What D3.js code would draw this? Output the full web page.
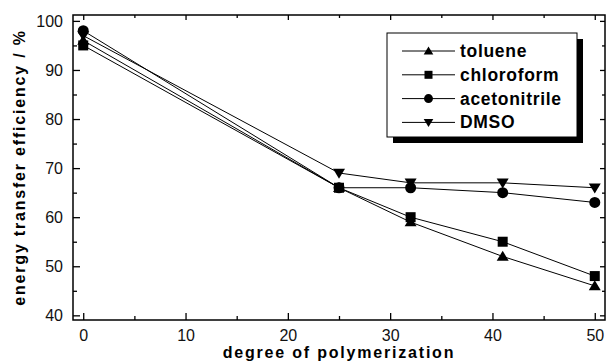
<!DOCTYPE html>
<html>
<head>
<meta charset="utf-8">
<script src="https://cdn.jsdelivr.net/npm/d3@7"></script>
<style>
body { margin: 0; background: #fff; }
svg { font-family: "Liberation Sans", Arial, Helvetica, sans-serif; }
</style>
</head>
<body>
<svg id="chart" width="607" height="364"></svg>
<script>
var dp = [0, 25, 32, 41, 50];
var toluene = [96, 66, 59, 52, 46];
var chloroform = [95, 66, 60, 55, 48];
var acetonitrile = [98, 66, 66, 65, 63];
var dmso = [97, 69, 67, 67, 66];
var xTicks = [0, 10, 20, 30, 40, 50];
var yTicks = [40, 50, 60, 70, 80, 90, 100];

var series = [
  {name: 'toluene', values: toluene, sym: 'up'},
  {name: 'chloroform', values: chloroform, sym: 'square'},
  {name: 'acetonitrile', values: acetonitrile, sym: 'circle'},
  {name: 'DMSO', values: dmso, sym: 'down'}
];

var svg = d3.select('#chart');
var pLeft = 73, pRight = 605, pTop = 15, pBottom = 320;

var x = d3.scaleLinear().domain([-1, 51]).range([pLeft, pRight]);
var y = d3.scaleLinear().domain([39.05, 101.2]).range([pBottom, pTop]);

// markers
function marker(g, sym, s) {
  if (sym == 'square') {
    g.append('rect').attr('x', -s/2).attr('y', -s/2).attr('width', s).attr('height', s);
  } else if (sym == 'circle') {
    g.append('circle').attr('r', s/2 + 0.5);
  } else if (sym == 'up') {
    var h = s * 0.95;
    g.append('path').attr('d', 'M0,' + (-h*0.6) + 'L' + (s*0.6) + ',' + (h*0.45) + 'L' + (-s*0.6) + ',' + (h*0.45) + 'Z');
  } else {
    var h = s * 0.95;
    g.append('path').attr('d', 'M0,' + (h*0.6) + 'L' + (s*0.6) + ',' + (-h*0.45) + 'L' + (-s*0.6) + ',' + (-h*0.45) + 'Z');
  }
}

// axes with inward ticks, mirrored
var xMinor = d3.range(5, 50, 10);
var yMinor = d3.range(45, 100, 10);
function noDomain(g) { g.select('.domain').remove(); }

svg.append('g').attr('transform', 'translate(0,' + pBottom + ')')
  .call(d3.axisBottom(x).tickValues(xTicks).tickSize(-7).tickPadding(10).tickFormat(d3.format('d'))).call(noDomain);
svg.append('g').attr('transform', 'translate(0,' + pBottom + ')')
  .call(d3.axisBottom(x).tickValues(xMinor).tickSize(-4).tickFormat('')).call(noDomain);
svg.append('g').attr('transform', 'translate(0,' + pTop + ')')
  .call(d3.axisTop(x).tickValues(xTicks).tickSize(-5).tickFormat('')).call(noDomain);
svg.append('g').attr('transform', 'translate(0,' + pTop + ')')
  .call(d3.axisTop(x).tickValues(xMinor).tickSize(-3).tickFormat('')).call(noDomain);

svg.append('g').attr('transform', 'translate(' + pLeft + ',0)')
  .call(d3.axisLeft(y).tickValues(yTicks).tickSize(-7).tickPadding(10).tickFormat(d3.format('d'))).call(noDomain);
svg.append('g').attr('transform', 'translate(' + pLeft + ',0)')
  .call(d3.axisLeft(y).tickValues(yMinor).tickSize(-4).tickFormat('')).call(noDomain);
svg.append('g').attr('transform', 'translate(' + pRight + ',0)')
  .call(d3.axisRight(y).tickValues(yTicks).tickSize(-5).tickFormat('')).call(noDomain);
svg.append('g').attr('transform', 'translate(' + pRight + ',0)')
  .call(d3.axisRight(y).tickValues(yMinor).tickSize(-3).tickFormat('')).call(noDomain);

svg.selectAll('.tick line').attr('stroke', '#000').attr('stroke-width', 1.3);
svg.selectAll('.tick text').attr('font-size', 16).attr('fill', '#111')
  .style('font-family', '"Liberation Sans", Arial, sans-serif');

svg.append('rect').attr('x', pLeft).attr('y', pTop).attr('width', pRight - pLeft).attr('height', pBottom - pTop)
  .attr('fill', 'none').attr('stroke', '#000').attr('stroke-width', 1.5);

// lines
var line = d3.line().x(function(d, i){ return x(dp[i]); }).y(function(d){ return y(d); });
series.forEach(function(s) {
  svg.append('path').datum(s.values).attr('d', line)
    .attr('fill', 'none').attr('stroke', '#000').attr('stroke-width', 1);
  s.values.forEach(function(v, i) {
    var g = svg.append('g').attr('transform', 'translate(' + x(dp[i]) + ',' + y(v) + ')').attr('fill', '#000');
    marker(g, s.sym, 10);
  });
});

// axis titles
svg.append('text').attr('x', (pLeft + pRight) / 2).attr('y', 358)
  .attr('text-anchor', 'middle').attr('font-size', 16).attr('font-weight', 'bold')
  .style('letter-spacing', '1.8px').text('degree of polymerization');
svg.append('text').attr('transform', 'translate(25,' + ((pTop + pBottom) / 2) + ') rotate(-90)')
  .attr('text-anchor', 'middle').attr('font-size', 16).attr('font-weight', 'bold')
  .style('letter-spacing', '1.8px').text('energy transfer efficiency / %');

// legend
var lg = svg.append('g');
lg.append('rect').attr('x', 393).attr('y', 39).attr('width', 190).attr('height', 104).attr('fill', '#000');
lg.append('rect').attr('x', 387).attr('y', 33).attr('width', 190).attr('height', 104)
  .attr('fill', '#fff').attr('stroke', '#000').attr('stroke-width', 1);
series.forEach(function(s, i) {
  var yy = 51 + i * 23.8;
  lg.append('line').attr('x1', 402).attr('x2', 455).attr('y1', yy).attr('y2', yy)
    .attr('stroke', '#000').attr('stroke-width', 1);
  var g = lg.append('g').attr('transform', 'translate(428.5,' + yy + ')').attr('fill', '#000');
  marker(g, s.sym, 8);
  lg.append('text').attr('x', 460).attr('y', yy + 6).attr('font-size', 17.5).attr('font-weight', 'bold')
    .style('letter-spacing', '0.7px').text(s.name);
});
</script>
</body>
</html>
